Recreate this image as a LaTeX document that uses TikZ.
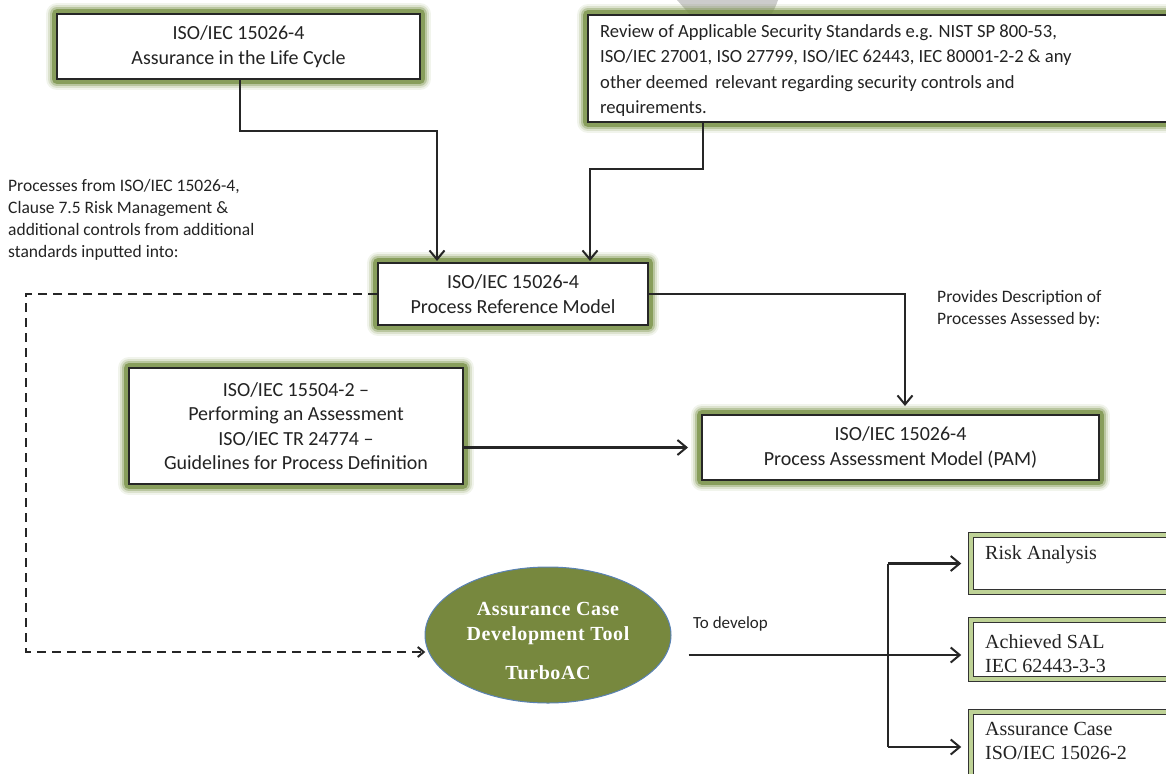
\documentclass[tikz,border=0pt]{standalone}
\usepackage{fontspec}
\setmainfont{Carlito}
\newfontfamily\camb{Liberation Serif}
\newfontfamily\cambb[LetterSpace=3]{Liberation Serif Bold}
\usetikzlibrary{arrows.meta,shapes.geometric}
\definecolor{glowc}{RGB}{120,145,70}
\definecolor{glowl}{RGB}{190,210,150}
\definecolor{olivef}{RGB}{119,136,62}
\definecolor{ellb}{RGB}{90,130,180}
\definecolor{txt}{RGB}{35,35,35}
\begin{document}
\begin{tikzpicture}[x=1pt,y=-1pt,
  glowbox/.style={draw=black!85, line width=2pt, fill=white, inner sep=0pt, align=center, text=txt,
    font=\fontsize{20}{24.5}\selectfont,
    preaction={draw=glowc, line width=22pt, opacity=0.10, line join=round},
    preaction={draw=glowc, line width=18pt, opacity=0.18, line join=round},
    preaction={draw=glowc, line width=14pt, opacity=0.35, line join=round},
    preaction={draw=glowc, line width=10pt, opacity=0.75, line join=round}},
  rbox/.style={draw=black!80, line width=1.5pt, double=glowl, double distance=3.5pt, fill=white, inner sep=0pt},
  rtext/.style={anchor=north west, inner sep=0pt, align=left, text=txt, font=\camb\fontsize{20}{24.5}\selectfont},
  lbl/.style={anchor=north west, inner sep=0pt, align=left, text=txt},
  conn/.style={draw=black!85, line width=2.2pt},
  arr/.style={conn, -{Straight Barb[length=9pt,width=15pt,line width=2pt]}},
  dsh/.style={draw=black!85, line width=2.4pt, dash pattern=on 9pt off 6pt, -{Straight Barb[length=6pt,width=10pt,line width=2pt]}}
]
\useasboundingbox (0,0) rectangle (1166,773);

% faint grey shape behind the review box
\fill[gray!40] (677,0) -- (778,0) .. controls (772,20) and (752,38) .. (730,48) .. controls (708,35) and (690,15) .. cycle;

\node[glowbox, minimum width=363, minimum height=65] (lc) at (238.5,46.5) {ISO/IEC 15026-4\\Assurance in the Life Cycle};

\node[glowbox, minimum width=592, minimum height=107] (rev) at (884,68.5) {};
\node[lbl, font=\fontsize{18.6}{25.5}\selectfont] (revt) at (600,24) {Review of Applicable Security Standards e.g. NIST SP 800-53,\\ISO/IEC 27001, ISO 27799, ISO/IEC 62443, IEC 80001-2-2 \& any\\other deemed\, relevant regarding security controls and\\requirements.};

\node[glowbox, minimum width=270, minimum height=62] (prm) at (513,294) {ISO/IEC 15026-4\\Process Reference Model};

\node[glowbox, minimum width=334, minimum height=116] (pa) at (296,426) {ISO/IEC 15504-2 --\\Performing an Assessment\\ISO/IEC TR 24774 --\\Guidelines for Process Definition};

\node[glowbox, minimum width=397, minimum height=65] (pam) at (900.5,447.5) {ISO/IEC 15026-4\\Process Assessment Model (PAM)};

\node[ellipse, fill=olivef, draw=ellb, line width=1pt, minimum width=246, minimum height=136, inner sep=0pt] (tool) at (548,635) {};
\node[anchor=north, inner sep=0pt, align=center, text=white, font=\cambb\fontsize{20}{25}\selectfont] (toolt) at (548,602)
  {Assurance Case\\Development Tool\\[14pt]TurboAC};

\node[rbox, minimum width=209, minimum height=57] (risk) at (1075.5,563.5) {};
\node[rbox, minimum width=209, minimum height=59] (sal) at (1075.5,649.5) {};
\node[rbox, minimum width=209, minimum height=70] (ac) at (1075.5,747) {};
\node[rtext] (riskt) at (985,545) {Risk Analysis};
\node[rtext] (salt) at (985,634) {Achieved SAL\\IEC 62443-3-3};
\node[rtext] (act) at (985,722) {Assurance Case\\ISO/IEC 15026-2};

\node[lbl, font=\fontsize{17.5}{22}\selectfont] (l1) at (8,179) {Processes from ISO/IEC 15026-4,\\Clause 7.5 Risk Management \&\\additional controls from additional\\standards inputted into:};
\node[lbl, font=\fontsize{17.5}{22.5}\selectfont] (l2) at (937,290) {Provides Description of\\Processes Assessed by:};
\node[lbl, font=\fontsize{17}{20}\selectfont] (l3) at (693,616) {To develop};

% connectors
\draw[arr, shorten >=1pt] (lc.south) ++(1.5pt,0) -- ++(0,51) -| ([xshift=-76pt]prm.north);
\draw[arr, shorten >=1pt] ([xshift=-181pt]rev.south) -- ++(0,46) -| ([xshift=77pt]prm.north);
\draw[arr, shorten >=8pt] (prm.east) -| ([xshift=4.5pt]pam.north);
\draw[arr, shorten >=13pt] (pam.west -| pa.east) -- (pam.west);

\coordinate (d2) at (26,652);
\draw[dsh, shorten >=3pt] (prm.west) -| (d2) -- (d2 -| tool.188);

\coordinate (tj) at (888,655);
\draw[conn] ([shift={(17pt,-20pt)}]tool.east) -- (tj);
\draw[conn] (tj |- risk.west) -- (tj |- ac.west);
\draw[arr, shorten >=9pt] (tj |- risk.west) -- (risk.west);
\draw[arr, shorten >=9pt] (tj) -- (tj -| sal.west);
\draw[arr, shorten >=9pt] (tj |- ac.west) -- (ac.west);
\end{tikzpicture}
\end{document}
